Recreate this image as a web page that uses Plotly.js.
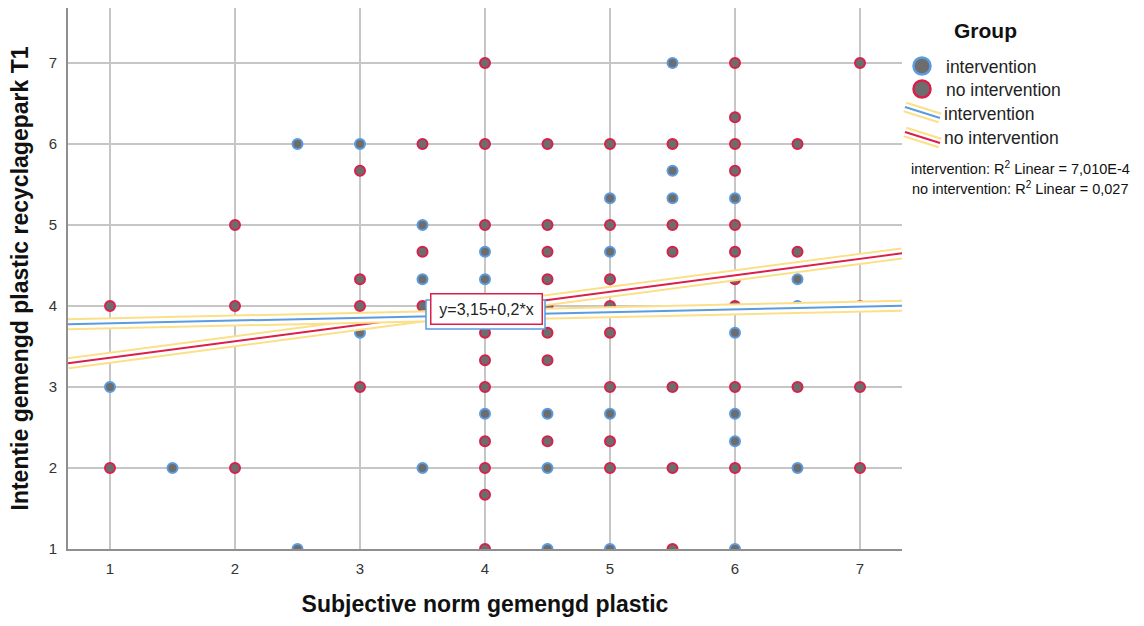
<!DOCTYPE html>
<html>
<head>
<meta charset="utf-8">
<script src="https://cdn.plot.ly/plotly-3.0.1.min.js"></script>
<style>html,body{margin:0;padding:0;background:#fff;}#chart{width:1144px;height:626px;}</style>
</head>
<body>
<div id="chart"></div>
<script>
// ---- data ----
var groups = ["intervention", "no intervention"];

var interventionX = [5.5, 2.5, 3, 5.5, 5, 5.5, 6, 3.5, 4, 5, 3.5, 4, 6.5, 6.5, 3, 6, 1, 4, 4.5, 5, 6, 6, 1.5, 3.5, 4.5, 6.5, 2.5, 4.5, 5, 6];
var interventionY = [7, 6, 6, 5.67, 5.33, 5.33, 5.33, 5, 4.67, 4.67, 4.33, 4.33, 4.33, 4, 3.67, 3.67, 3, 2.67, 2.67, 2.67, 2.67, 2.33, 2, 2, 2, 2, 1, 1, 1, 1];

var noInterventionX = [4, 6, 7, 6, 3.5, 4, 4.5, 5, 5.5, 6, 6.5, 3, 6, 2, 4, 4.5, 5, 5.5, 6, 3.5, 4.5, 5.5, 6, 6.5, 3, 4.5, 5, 6, 1, 2, 3, 3.5, 4.5, 5, 6, 7, 4, 4.5, 5, 4, 4.5, 3, 4, 5, 5.5, 6, 6.5, 7, 4, 4.5, 5, 1, 2, 4, 5, 5.5, 6, 7, 4, 4, 5.5];
var noInterventionY = [7, 7, 7, 6.33, 6, 6, 6, 6, 6, 6, 6, 5.67, 5.67, 5, 5, 5, 5, 5, 5, 4.67, 4.67, 4.67, 4.67, 4.67, 4.33, 4.33, 4.33, 4.33, 4, 4, 4, 4, 4, 4, 4, 4, 3.67, 3.67, 3.67, 3.33, 3.33, 3, 3, 3, 3, 3, 3, 3, 2.33, 2.33, 2.33, 2, 2, 2, 2, 2, 2, 2, 1.67, 1, 1];

// fit lines (intercept, slope)
var fitIntercept = [3.751, 3.157];
var fitSlope = [0.0345, 0.2035];
var rSquaredText = ["7,010E-4", "0,027"];
var fitLabel = "y=3,15+0,2*x";

var xTicks = [1, 2, 3, 4, 5, 6, 7];
var yTicks = [1, 2, 3, 4, 5, 6, 7];

// ---- styling ----
var BLUE = "#5b9be0", RED = "#d91f4b", FILL = "#6d6d6d", HALO = "#fbe089";
var groupColors = [BLUE, RED];
var FONT = "Liberation Sans, Arial, sans-serif";

var xRange = [0.664, 7.336];
var yRange = [1, 7.679];

// plot geometry in pixels
var L = 68, R = 902, T = 8, B = 549;
var W = R - L, H = B - T;
function px(p) { return (p - L) / W; }
function py(p) { return (B - p) / H; }

var traces = [];
function markerTrace(xs, ys, color, name) {
  return {
    type: "scatter", mode: "markers", x: xs, y: ys, name: name, showlegend: false,
    marker: { size: 10, color: FILL, line: { color: color, width: 2 } },
    hoverinfo: "x+y+name"
  };
}
traces.push(markerTrace(interventionX, interventionY, BLUE, groups[0]));
traces.push(markerTrace(noInterventionX, noInterventionY, RED, groups[1]));

// fit lines with selection halo
[1, 0].forEach(function (g) {
  var xs = [xRange[0], xRange[1]];
  var ys = xs.map(function (x) { return fitIntercept[g] + fitSlope[g] * x; });
  [[HALO, 12], ["#ffffff", 8], [groupColors[g], 2]].forEach(function (s) {
    traces.push({ type: "scatter", mode: "lines", x: xs, y: ys, showlegend: false, hoverinfo: "skip",
      line: { color: s[0], width: s[1] } });
  });
});

// ---- manual legend ----
var shapes = [];
var annotations = [];

annotations.push({ xref: "paper", yref: "paper", x: px(985), y: py(31), text: "<b>Group</b>", showarrow: false,
  font: { family: FONT, size: 21, color: "#111" }, xanchor: "center", yanchor: "middle" });

var legendMarkerY = [66, 89];
groups.forEach(function (g, i) {
  shapes.push({ type: "circle", xref: "paper", yref: "paper", xsizemode: "pixel", ysizemode: "pixel",
    xanchor: px(922), yanchor: py(legendMarkerY[i]), x0: -8.5, x1: 8.5, y0: -8.5, y1: 8.5,
    fillcolor: FILL, line: { color: groupColors[i], width: 2.5 } });
  annotations.push({ xref: "paper", yref: "paper", x: px(944), y: py(legendMarkerY[i] + 1), text: g, showarrow: false,
    font: { family: FONT, size: 17.5, color: "#222" }, xanchor: "left", yanchor: "middle" });
});

var legendLineY = [[107, 118], [132, 143]];
var legendLineTextY = [114, 138];
groups.forEach(function (g, i) {
  [[HALO, 11], ["#ffffff", 7], [groupColors[i], 2]].forEach(function (s) {
    shapes.push({ type: "line", xref: "paper", yref: "paper",
      x0: px(905), y0: py(legendLineY[i][0]), x1: px(940), y1: py(legendLineY[i][1]),
      line: { color: s[0], width: s[1] } });
  });
  annotations.push({ xref: "paper", yref: "paper", x: px(942), y: py(legendLineTextY[i]), text: g, showarrow: false,
    font: { family: FONT, size: 17.5, color: "#222" }, xanchor: "left", yanchor: "middle" });
});

var r2Y = [168, 188];
groups.forEach(function (g, i) {
  annotations.push({ xref: "paper", yref: "paper", x: px(1020), y: py(r2Y[i]),
    text: g + ": R<sup>2</sup> Linear = " + rSquaredText[i], showarrow: false,
    font: { family: FONT, size: 14.5, color: "#111" }, xanchor: "center", yanchor: "middle" });
});

// fit label: blue frame behind (shape), red framed text in front (annotation)
shapes.push({ type: "rect", xref: "x", yref: "y", xsizemode: "pixel", ysizemode: "pixel",
  xanchor: 4.0, yanchor: 3.895, x0: -59, x1: 60, y0: -14.5, y1: 14.5,
  fillcolor: "#ffffff", line: { color: BLUE, width: 1.5 } });
annotations.push({ xref: "x", yref: "y", x: 4.008, y: 3.957, text: fitLabel, showarrow: false,
  width: 104, height: 23,
  font: { family: FONT, size: 16, color: "#222" }, bgcolor: "#ffffff",
  bordercolor: RED, borderwidth: 1.5, borderpad: 3, xanchor: "center", yanchor: "middle" });

var layout = {
  width: 1144, height: 626,
  margin: { l: L, r: 1144 - R, t: T, b: 626 - B },
  paper_bgcolor: "#ffffff", plot_bgcolor: "#ffffff",
  showlegend: false,
  font: { family: FONT, color: "#333" },
  xaxis: {
    range: xRange, tickvals: xTicks, ticktext: xTicks.map(String),
    showgrid: true, gridcolor: "#c6c6c6", gridwidth: 1.3, zeroline: false,
    showline: true, linecolor: "#8f8f8f", linewidth: 2,
    ticks: "outside", ticklen: 5, tickcolor: "rgba(0,0,0,0)",
    tickfont: { family: FONT, size: 15, color: "#333" },
    title: { text: "<b>Subjective norm gemengd plastic</b>", standoff: 20,
      font: { family: FONT, size: 23, color: "#111" } }
  },
  yaxis: {
    range: yRange, tickvals: yTicks, ticktext: yTicks.map(String),
    showgrid: true, gridcolor: "#c6c6c6", gridwidth: 1.3, zeroline: false,
    showline: true, linecolor: "#8f8f8f", linewidth: 2,
    ticks: "outside", ticklen: 6, tickcolor: "rgba(0,0,0,0)",
    tickfont: { family: FONT, size: 15, color: "#333" },
    title: { text: "<b>Intentie gemengd plastic recyclagepark T1</b>", standoff: 14,
      font: { family: FONT, size: 23, color: "#111" } }
  },
  shapes: shapes,
  annotations: annotations
};

Plotly.newPlot("chart", traces, layout, { displayModeBar: false, staticPlot: true });
</script>
</body>
</html>
